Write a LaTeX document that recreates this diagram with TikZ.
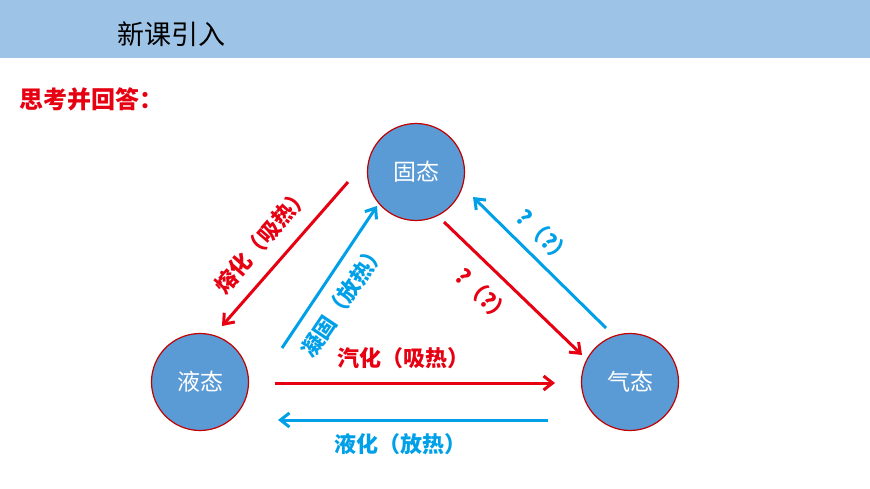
\documentclass[tikz,border=0pt]{standalone}
\usepackage{fontspec}
\setmainfont{Noto Sans CJK SC}
\usetikzlibrary{arrows.meta}
\definecolor{hdr}{RGB}{157,195,230}
\definecolor{cfill}{RGB}{91,155,213}
\definecolor{rd}{RGB}{230,0,18}
\definecolor{bl}{RGB}{0,160,233}
\definecolor{edge}{RGB}{192,0,0}
\begin{document}
\begin{tikzpicture}[x=1pt,y=-1pt,
  state/.style={circle,fill=cfill,draw=edge,line width=1.2pt,minimum size=97pt,inner sep=0pt,text=white,font=\fontsize{23}{23}\selectfont},
  rarr/.style={draw=rd,line width=3pt,-{Straight Barb[length=9pt,width=14pt]}},
  barr/.style={draw=bl,line width=3pt,-{Straight Barb[length=9pt,width=14pt]}},
  rlab/.style={text=rd,font=\bfseries\fontsize{22}{22}\selectfont},
  blab/.style={text=bl,font=\bfseries\fontsize{22}{22}\selectfont}]
\useasboundingbox (0,0) rectangle (870,489);
\fill[hdr] (0,0) rectangle (870,58);
\node[anchor=west,font=\fontsize{27}{27}\selectfont] (title) at (114,34) {新课引入};
\node[anchor=west,text=rd,font=\bfseries\fontsize{24}{24}\selectfont] (q) at (16,99) {思考并回答：};
\node[state] (s) at (416,172) {固态};
\node[state] (l) at (200,382) {液态};
\node[state] (g) at (630,382) {气态};
\coordinate (a1) at (348,182); \coordinate (a2) at (222,326);
\coordinate (b1) at (282,348); \coordinate (b2) at (377,206);
\coordinate (c1) at (444,222); \coordinate (c2) at (582,355);
\coordinate (d1) at (606,328); \coordinate (d2) at (473,197);
\coordinate (e1) at (275,383); \coordinate (e2) at (555,383);
\coordinate (f1) at (548,420); \coordinate (f2) at (278,420);
\draw[rarr] (a1) -- (a2);
\draw[barr] (b1) -- (b2);
\draw[rarr] (c1) -- (c2);
\draw[barr] (d1) -- (d2);
\draw[rarr] (e1) -- (e2);
\draw[barr] (f1) -- (f2);
\node[rlab,rotate=49] (la) at (262,240) {熔化（吸热）};
\node[blab,rotate=56] (lb) at (343,300) {凝固（放热）};
\node[rlab,rotate=-44] (lc) at (484,296) {?（?）};
\node[blab,rotate=-44] (ld) at (545,237) {?（?）};
\node[rlab] (le) at (403,358) {汽化（吸热）};
\node[blab] (lf) at (400,444) {液化（放热）};
\end{tikzpicture}
\end{document}
